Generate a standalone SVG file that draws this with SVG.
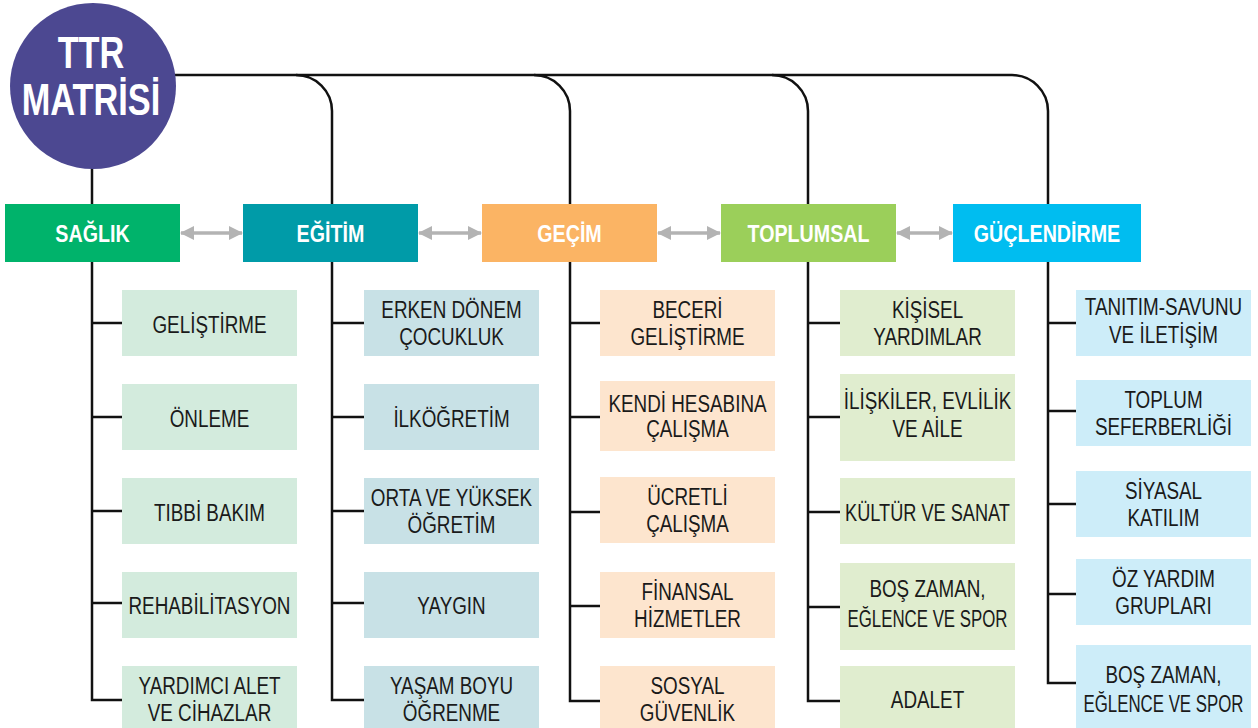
<svg xmlns="http://www.w3.org/2000/svg" width="1258" height="728" viewBox="0 0 1258 728">
<style>
.ln{fill:none;stroke:#111;stroke-width:2.5}
.ar{stroke:#b3b3b3;stroke-width:3.5;marker-start:url(#ah);marker-end:url(#ah)}
.h{font-family:"Liberation Sans",Arial,sans-serif;font-weight:bold;font-size:24px;fill:#fff;text-anchor:middle}
.hb{font-size:44px}
.t{font-family:"Liberation Sans",Arial,sans-serif;font-size:23px;fill:#1a1a1a;text-anchor:middle}
.c1{fill:#d3ebdd}.c2{fill:#c8e1e6}.c3{fill:#fde5ce}.c4{fill:#e0edcf}.c5{fill:#cdedf9}
</style>
<defs>
<marker id="ah" viewBox="0 0 14 14" refX="13" refY="7" markerWidth="14" markerHeight="15" markerUnits="userSpaceOnUse" orient="auto-start-reverse">
<path d="M0,0 L14,7 L0,14 z" fill="#b3b3b3"/>
</marker>
</defs>
<rect width="1258" height="728" fill="#fff"/>
<g id="connectors">
<path class="ln" d="M170,75 H1012 A36,36 0 0 1 1048,111 V683 H1076"/>
<path class="ln" d="M92,160 V700 H122"/>
<path class="ln" d="M296,75 A36,36 0 0 1 332,111 V700 H364"/>
<path class="ln" d="M534,75 A36,36 0 0 1 570,111 V701 H600"/>
<path class="ln" d="M772,75 A36,36 0 0 1 808,111 V701 H840"/>
<path class="ln" d="M92,323 H122 M92,417 H122 M92,511 H122 M92,603 H122"/>
<path class="ln" d="M332,323 H364 M332,417 H364 M332,511 H364 M332,603 H364"/>
<path class="ln" d="M570,323 H600 M570,417 H600 M570,512 H600 M570,606 H600"/>
<path class="ln" d="M808,323 H840 M808,417 H840 M808,512 H840 M808,607 H840"/>
<path class="ln" d="M1048,323 H1076 M1048,411 H1076 M1048,504 H1076 M1048,594 H1076"/>
<line class="ar" x1="181" y1="233" x2="242" y2="233"/>
<line class="ar" x1="419" y1="233" x2="481" y2="233"/>
<line class="ar" x1="658" y1="233" x2="720" y2="233"/>
<line class="ar" x1="897" y1="233" x2="952" y2="233"/>
</g>
<g id="ttr">
<circle cx="93" cy="86" r="83" fill="#4c4891"/>
<text class="h hb" transform="translate(91,68) scale(0.78,1)">TTR</text>
<text class="h hb" transform="translate(91,115) scale(0.78,1)">MATRİSİ</text>
</g>
<g id="saglik"><rect x="5" y="204" width="175" height="58" fill="#00b36b"/><text class="h" transform="translate(92.5,242) scale(0.82,1)">SAĞLIK</text></g>
<g id="egitim"><rect x="243" y="204" width="175" height="58" fill="#009ba8"/><text class="h" transform="translate(330.5,242) scale(0.82,1)">EĞİTİM</text></g>
<g id="gecim"><rect x="482" y="204" width="175" height="58" fill="#fbb464"/><text class="h" transform="translate(569.5,242) scale(0.82,1)">GEÇİM</text></g>
<g id="toplumsal"><rect x="721" y="204" width="175" height="58" fill="#9bcf5a"/><text class="h" transform="translate(808.5,242) scale(0.82,1)">TOPLUMSAL</text></g>
<g id="guclendirme"><rect x="953" y="204" width="188" height="58" fill="#00bdf0"/><text class="h" transform="translate(1047,242) scale(0.82,1)">GÜÇLENDİRME</text></g>

<g id="s1"><rect class="c1" x="122" y="290" width="175" height="66"/><text class="t" transform="translate(209.5,333) scale(0.82,1)">GELİŞTİRME</text></g>
<g id="s2"><rect class="c1" x="122" y="384" width="175" height="66"/><text class="t" transform="translate(209.5,427) scale(0.82,1)">ÖNLEME</text></g>
<g id="s3"><rect class="c1" x="122" y="478" width="175" height="66"/><text class="t" transform="translate(209.5,521) scale(0.82,1)">TIBBİ BAKIM</text></g>
<g id="s4"><rect class="c1" x="122" y="572" width="175" height="66"/><text class="t" transform="translate(209.5,614) scale(0.82,1)">REHABİLİTASYON</text></g>
<g id="s5"><rect class="c1" x="122" y="666" width="175" height="62"/><text class="t" transform="translate(209.5,694) scale(0.82,1)">YARDIMCI ALET</text><text class="t" transform="translate(209.5,721) scale(0.82,1)">VE CİHAZLAR</text></g>

<g id="e1"><rect class="c2" x="364" y="290" width="175" height="66"/><text class="t" transform="translate(451.5,318) scale(0.82,1)">ERKEN DÖNEM</text><text class="t" transform="translate(451.5,345) scale(0.82,1)">ÇOCUKLUK</text></g>
<g id="e2"><rect class="c2" x="364" y="384" width="175" height="66"/><text class="t" transform="translate(451.5,427) scale(0.82,1)">İLKÖĞRETİM</text></g>
<g id="e3"><rect class="c2" x="364" y="478" width="175" height="66"/><text class="t" transform="translate(451.5,506) scale(0.82,1)">ORTA VE YÜKSEK</text><text class="t" transform="translate(451.5,533) scale(0.82,1)">ÖĞRETİM</text></g>
<g id="e4"><rect class="c2" x="364" y="572" width="175" height="66"/><text class="t" transform="translate(451.5,614) scale(0.82,1)">YAYGIN</text></g>
<g id="e5"><rect class="c2" x="364" y="666" width="175" height="62"/><text class="t" transform="translate(451.5,694) scale(0.82,1)">YAŞAM BOYU</text><text class="t" transform="translate(451.5,721) scale(0.82,1)">ÖĞRENME</text></g>

<g id="g1"><rect class="c3" x="600" y="290" width="175" height="66"/><text class="t" transform="translate(687.5,318) scale(0.82,1)">BECERİ</text><text class="t" transform="translate(687.5,345) scale(0.82,1)">GELİŞTİRME</text></g>
<g id="g2"><rect class="c3" x="600" y="381" width="175" height="70"/><text class="t" transform="translate(687.5,412) scale(0.82,1)">KENDİ HESABINA</text><text class="t" transform="translate(687.5,437) scale(0.82,1)">ÇALIŞMA</text></g>
<g id="g3"><rect class="c3" x="600" y="477" width="175" height="66"/><text class="t" transform="translate(687.5,505) scale(0.82,1)">ÜCRETLİ</text><text class="t" transform="translate(687.5,532) scale(0.82,1)">ÇALIŞMA</text></g>
<g id="g4"><rect class="c3" x="600" y="572" width="175" height="66"/><text class="t" transform="translate(687.5,600) scale(0.82,1)">FİNANSAL</text><text class="t" transform="translate(687.5,627) scale(0.82,1)">HİZMETLER</text></g>
<g id="g5"><rect class="c3" x="600" y="666" width="175" height="62"/><text class="t" transform="translate(687.5,694) scale(0.82,1)">SOSYAL</text><text class="t" transform="translate(687.5,721) scale(0.82,1)">GÜVENLİK</text></g>

<g id="t1"><rect class="c4" x="840" y="290" width="175" height="66"/><text class="t" transform="translate(927.5,318) scale(0.82,1)">KİŞİSEL</text><text class="t" transform="translate(927.5,345) scale(0.82,1)">YARDIMLAR</text></g>
<g id="t2"><rect class="c4" x="840" y="374" width="175" height="87"/><text class="t" transform="translate(927.5,409) scale(0.82,1)">İLİŞKİLER, EVLİLİK</text><text class="t" transform="translate(927.5,437) scale(0.82,1)">VE AİLE</text></g>
<g id="t3"><rect class="c4" x="840" y="478" width="175" height="66"/><text class="t" transform="translate(927.5,521) scale(0.82,1)" textLength="201" lengthAdjust="spacingAndGlyphs">KÜLTÜR VE SANAT</text></g>
<g id="t4"><rect class="c4" x="840" y="563" width="175" height="87"/><text class="t" transform="translate(927.5,597) scale(0.82,1)">BOŞ ZAMAN,</text><text class="t" transform="translate(927.5,627) scale(0.82,1)" textLength="195" lengthAdjust="spacingAndGlyphs">EĞLENCE VE SPOR</text></g>
<g id="t5"><rect class="c4" x="840" y="666" width="175" height="62"/><text class="t" transform="translate(927.5,708) scale(0.82,1)">ADALET</text></g>

<g id="p1"><rect class="c5" x="1076" y="290" width="175" height="66"/><text class="t" transform="translate(1163.5,315) scale(0.82,1)">TANITIM-SAVUNU</text><text class="t" transform="translate(1163.5,343) scale(0.82,1)">VE İLETİŞİM</text></g>
<g id="p2"><rect class="c5" x="1076" y="380" width="175" height="66"/><text class="t" transform="translate(1163.5,408) scale(0.82,1)">TOPLUM</text><text class="t" transform="translate(1163.5,435) scale(0.82,1)">SEFERBERLİĞİ</text></g>
<g id="p3"><rect class="c5" x="1076" y="471" width="175" height="66"/><text class="t" transform="translate(1163.5,499) scale(0.82,1)">SİYASAL</text><text class="t" transform="translate(1163.5,526) scale(0.82,1)">KATILIM</text></g>
<g id="p4"><rect class="c5" x="1076" y="559" width="175" height="66"/><text class="t" transform="translate(1163.5,587) scale(0.82,1)">ÖZ YARDIM</text><text class="t" transform="translate(1163.5,614) scale(0.82,1)">GRUPLARI</text></g>
<g id="p5"><rect class="c5" x="1076" y="645" width="175" height="83"/><text class="t" transform="translate(1163.5,683) scale(0.82,1)">BOŞ ZAMAN,</text><text class="t" transform="translate(1163.5,712) scale(0.82,1)" textLength="195" lengthAdjust="spacingAndGlyphs">EĞLENCE VE SPOR</text></g>
</svg>
